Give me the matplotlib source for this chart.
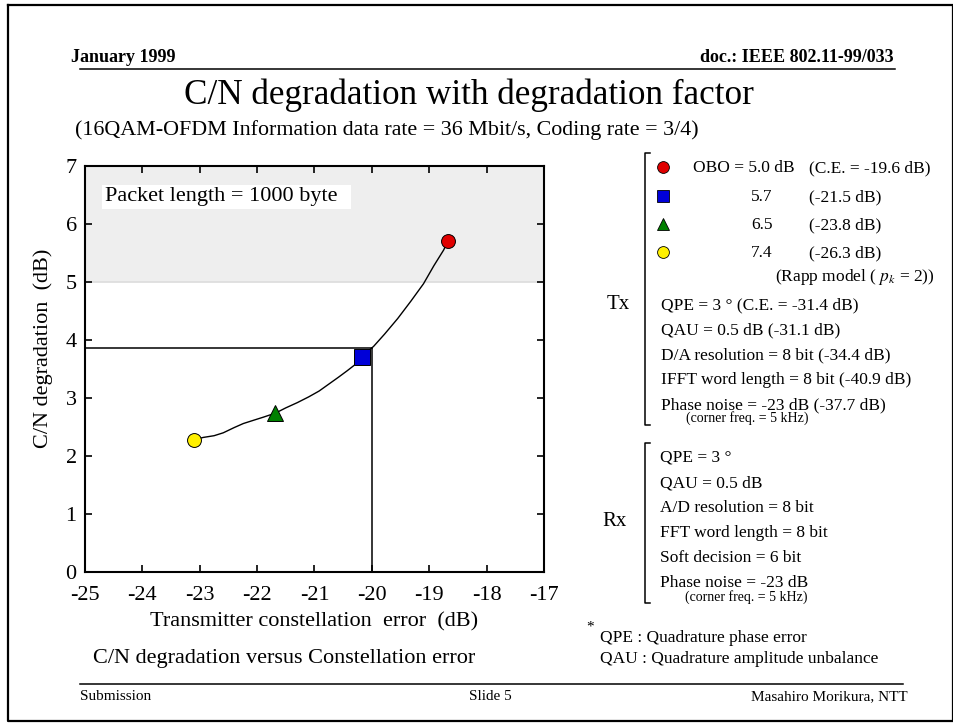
import numpy as np
import matplotlib
matplotlib.use('Agg')
import matplotlib.pyplot as plt

plt.rcParams['font.family'] = ['Liberation Serif', 'DejaVu Serif']
plt.rcParams['mathtext.fontset'] = 'stix'
plt.rcParams['axes.unicode_minus'] = False

# ---- data ----
# operating points (transmitter constellation error, C/N degradation)
pt_ce = [-18.67, -20.18, -21.68, -23.10]
pt_cn = [5.71, 3.71, 2.74, 2.28]
pt_marker = ['o', 's', '^', 'o']
pt_color = ['#e00000', '#0000d8', '#008000', '#fff000']
pt_size = [10, 11, 11, 10]

# curve through the points
curve_ce = [-23.10, -22.94, -22.75, -22.59, -22.40, -22.24, -22.05, -21.89, -21.68,
            -21.50, -21.30, -21.10, -20.92, -20.75, -20.58, -20.43, -20.30, -20.18,
            -19.97, -19.78, -19.55, -19.32, -19.10, -18.92, -18.75, -18.67]
curve_cn = [2.28, 2.32, 2.35, 2.40, 2.49, 2.56, 2.62, 2.67, 2.74,
            2.83, 2.92, 3.02, 3.12, 3.24, 3.36, 3.47, 3.57, 3.71,
            3.89, 4.10, 4.37, 4.67, 4.97, 5.28, 5.55, 5.71]

limit_ce = -20.0
limit_cn = 3.86
band_lo, band_hi = 5.0, 7.0

obo_vals = ['OBO = 5.0 dB', '5.7', '6.5', '7.4']
obo_ce = ['(C.E. = -19.6 dB)', '(-21.5 dB)', '(-23.8 dB)', '(-26.3 dB)']
tx_items = ['QPE = 3 \u00b0 (C.E. = -31.4 dB)', 'QAU = 0.5 dB (-31.1 dB)',
            'D/A resolution = 8 bit (-34.4 dB)', 'IFFT word length = 8 bit (-40.9 dB)',
            'Phase noise = -23 dB (-37.7 dB)']
rx_items = ['QPE = 3 \u00b0', 'QAU = 0.5 dB', 'A/D resolution = 8 bit',
            'FFT word length = 8 bit', 'Soft decision = 6 bit', 'Phase noise = -23 dB']

W, H = 954, 723
fig = plt.figure(figsize=(W / 100, H / 100), dpi=100)

# page overlay in pixel coordinates
pg = fig.add_axes([0, 0, 1, 1])
pg.set_xlim(0, W)
pg.set_ylim(H, 0)
pg.axis('off')

# slide frame and header / footer rules
pg.plot([8, 953, 953, 8, 8], [5, 5, 721, 721, 5], color='black', lw=1.6)
pg.plot([80, 895], [69, 69], color='black', lw=1.1)
pg.plot([80, 903], [684, 684], color='black', lw=1.1)

pg.text(71, 58, 'January 1999', fontsize=13, fontweight='bold', va='center', ha='left')
pg.text(894, 58, 'doc.: IEEE 802.11-99/033', fontsize=13, fontweight='bold', va='center', ha='right')
pg.text(469, 95, 'C/N degradation with degradation factor', fontsize=25.3, va='center', ha='center')
pg.text(75, 130, '(16QAM-OFDM Information data rate = 36 Mbit/s, Coding rate = 3/4)',
        fontsize=15.8, va='center', ha='left')

pg.text(80, 697, 'Submission', fontsize=11, va='center', ha='left')
pg.text(490, 697, 'Slide 5', fontsize=11, va='center', ha='center')
pg.text(908, 697, 'Masahiro Morikura, NTT', fontsize=11, va='center', ha='right')

pg.text(284, 658, 'C/N degradation versus Constellation error', fontsize=16, va='center', ha='center')

# ---- right-hand parameter list ----
fs = 12.5
pg.plot([650, 645, 645, 650], [153, 153, 425, 425], color='black', lw=1.1)
pg.plot([650, 645, 645, 650], [443, 443, 603, 603], color='black', lw=1.1)
pg.text(618, 309, 'Tx', fontsize=15, va='baseline', ha='center')
pg.text(615, 526, 'Rx', fontsize=15, va='baseline', ha='center')

row_y = [167, 196, 224, 252]
for i in range(4):
    pg.plot(663, row_y[i], marker=pt_marker[i], color=pt_color[i], markeredgecolor='black',
            markeredgewidth=0.6, markersize=8.5, linestyle='none')
    tx = 693 if i == 0 else 751
    pg.text(tx, row_y[i] + 5, obo_vals[i], fontsize=fs, va='baseline', ha='left')
    pg.text(809, row_y[i] + 5, obo_ce[i], fontsize=fs, va='baseline', ha='left')
pg.text(935, 281, '(Rapp model ( $p_k$ = 2))', fontsize=fs, va='baseline', ha='right')

for i, s in enumerate(tx_items):
    pg.text(661, 309 + i * 25, s, fontsize=fs, va='baseline', ha='left')
pg.text(686, 422, '(corner freq. = 5 kHz)', fontsize=10, va='baseline', ha='left')

for i, s in enumerate(rx_items):
    pg.text(660, 462 + i * 25, s, fontsize=fs, va='baseline', ha='left')
pg.text(685, 601, '(corner freq. = 5 kHz)', fontsize=10, va='baseline', ha='left')

pg.text(590, 627, '*', fontsize=11, va='center', ha='center')
pg.text(600, 642, 'QPE : Quadrature phase error', fontsize=fs, va='baseline', ha='left')
pg.text(600, 663, 'QAU : Quadrature amplitude unbalance', fontsize=fs, va='baseline', ha='left')

# ---- main chart ----
x0, x1, y0, y1 = 85, 544, 166, 572
ax = fig.add_axes([x0 / W, 1 - y1 / H, (x1 - x0) / W, (y1 - y0) / H])
ax.set_xlim(-25, -17)
ax.set_ylim(0, 7)

ax.axhspan(band_lo, band_hi, facecolor='#eeeeee', edgecolor='none', zorder=0)
ax.axhline(band_lo, color='#dcdcdc', lw=1.2, zorder=0.5)

ax.plot([-25, limit_ce], [limit_cn, limit_cn], color='black', lw=1.1, zorder=2)
ax.plot([limit_ce, limit_ce], [0, limit_cn], color='black', lw=1.1, zorder=2)

ax.plot(curve_ce, curve_cn, color='black', lw=1.0, zorder=3)
for i in range(4):
    ax.plot(pt_ce[i], pt_cn[i], marker=pt_marker[i], color=pt_color[i], markeredgecolor='black',
            markeredgewidth=0.7, markersize=pt_size[i], linestyle='none', zorder=4)

ax.text(-24.65, 6.47, 'Packet length = 1000 byte  ', fontsize=16, va='center', ha='left',
        bbox=dict(facecolor='white', edgecolor='none', pad=2), zorder=5)

ax.set_xticks(np.arange(-25, -16, 1))
ax.set_yticks(np.arange(0, 8, 1))
ax.tick_params(direction='in', length=5, width=1.2, top=True, right=True, labelsize=16)
ax.tick_params(axis='x', pad=10)
ax.tick_params(axis='y', pad=6)
for s in ax.spines.values():
    s.set_linewidth(1.5)

ax.set_xlabel('Transmitter constellation  error  (dB)', fontsize=16)
ax.set_ylabel('C/N degradation  (dB)', fontsize=16)
ax.xaxis.set_label_coords(0.499, -0.098)
ax.yaxis.set_label_coords(-0.07, 0.552)

plt.savefig('out.png', dpi=100)
